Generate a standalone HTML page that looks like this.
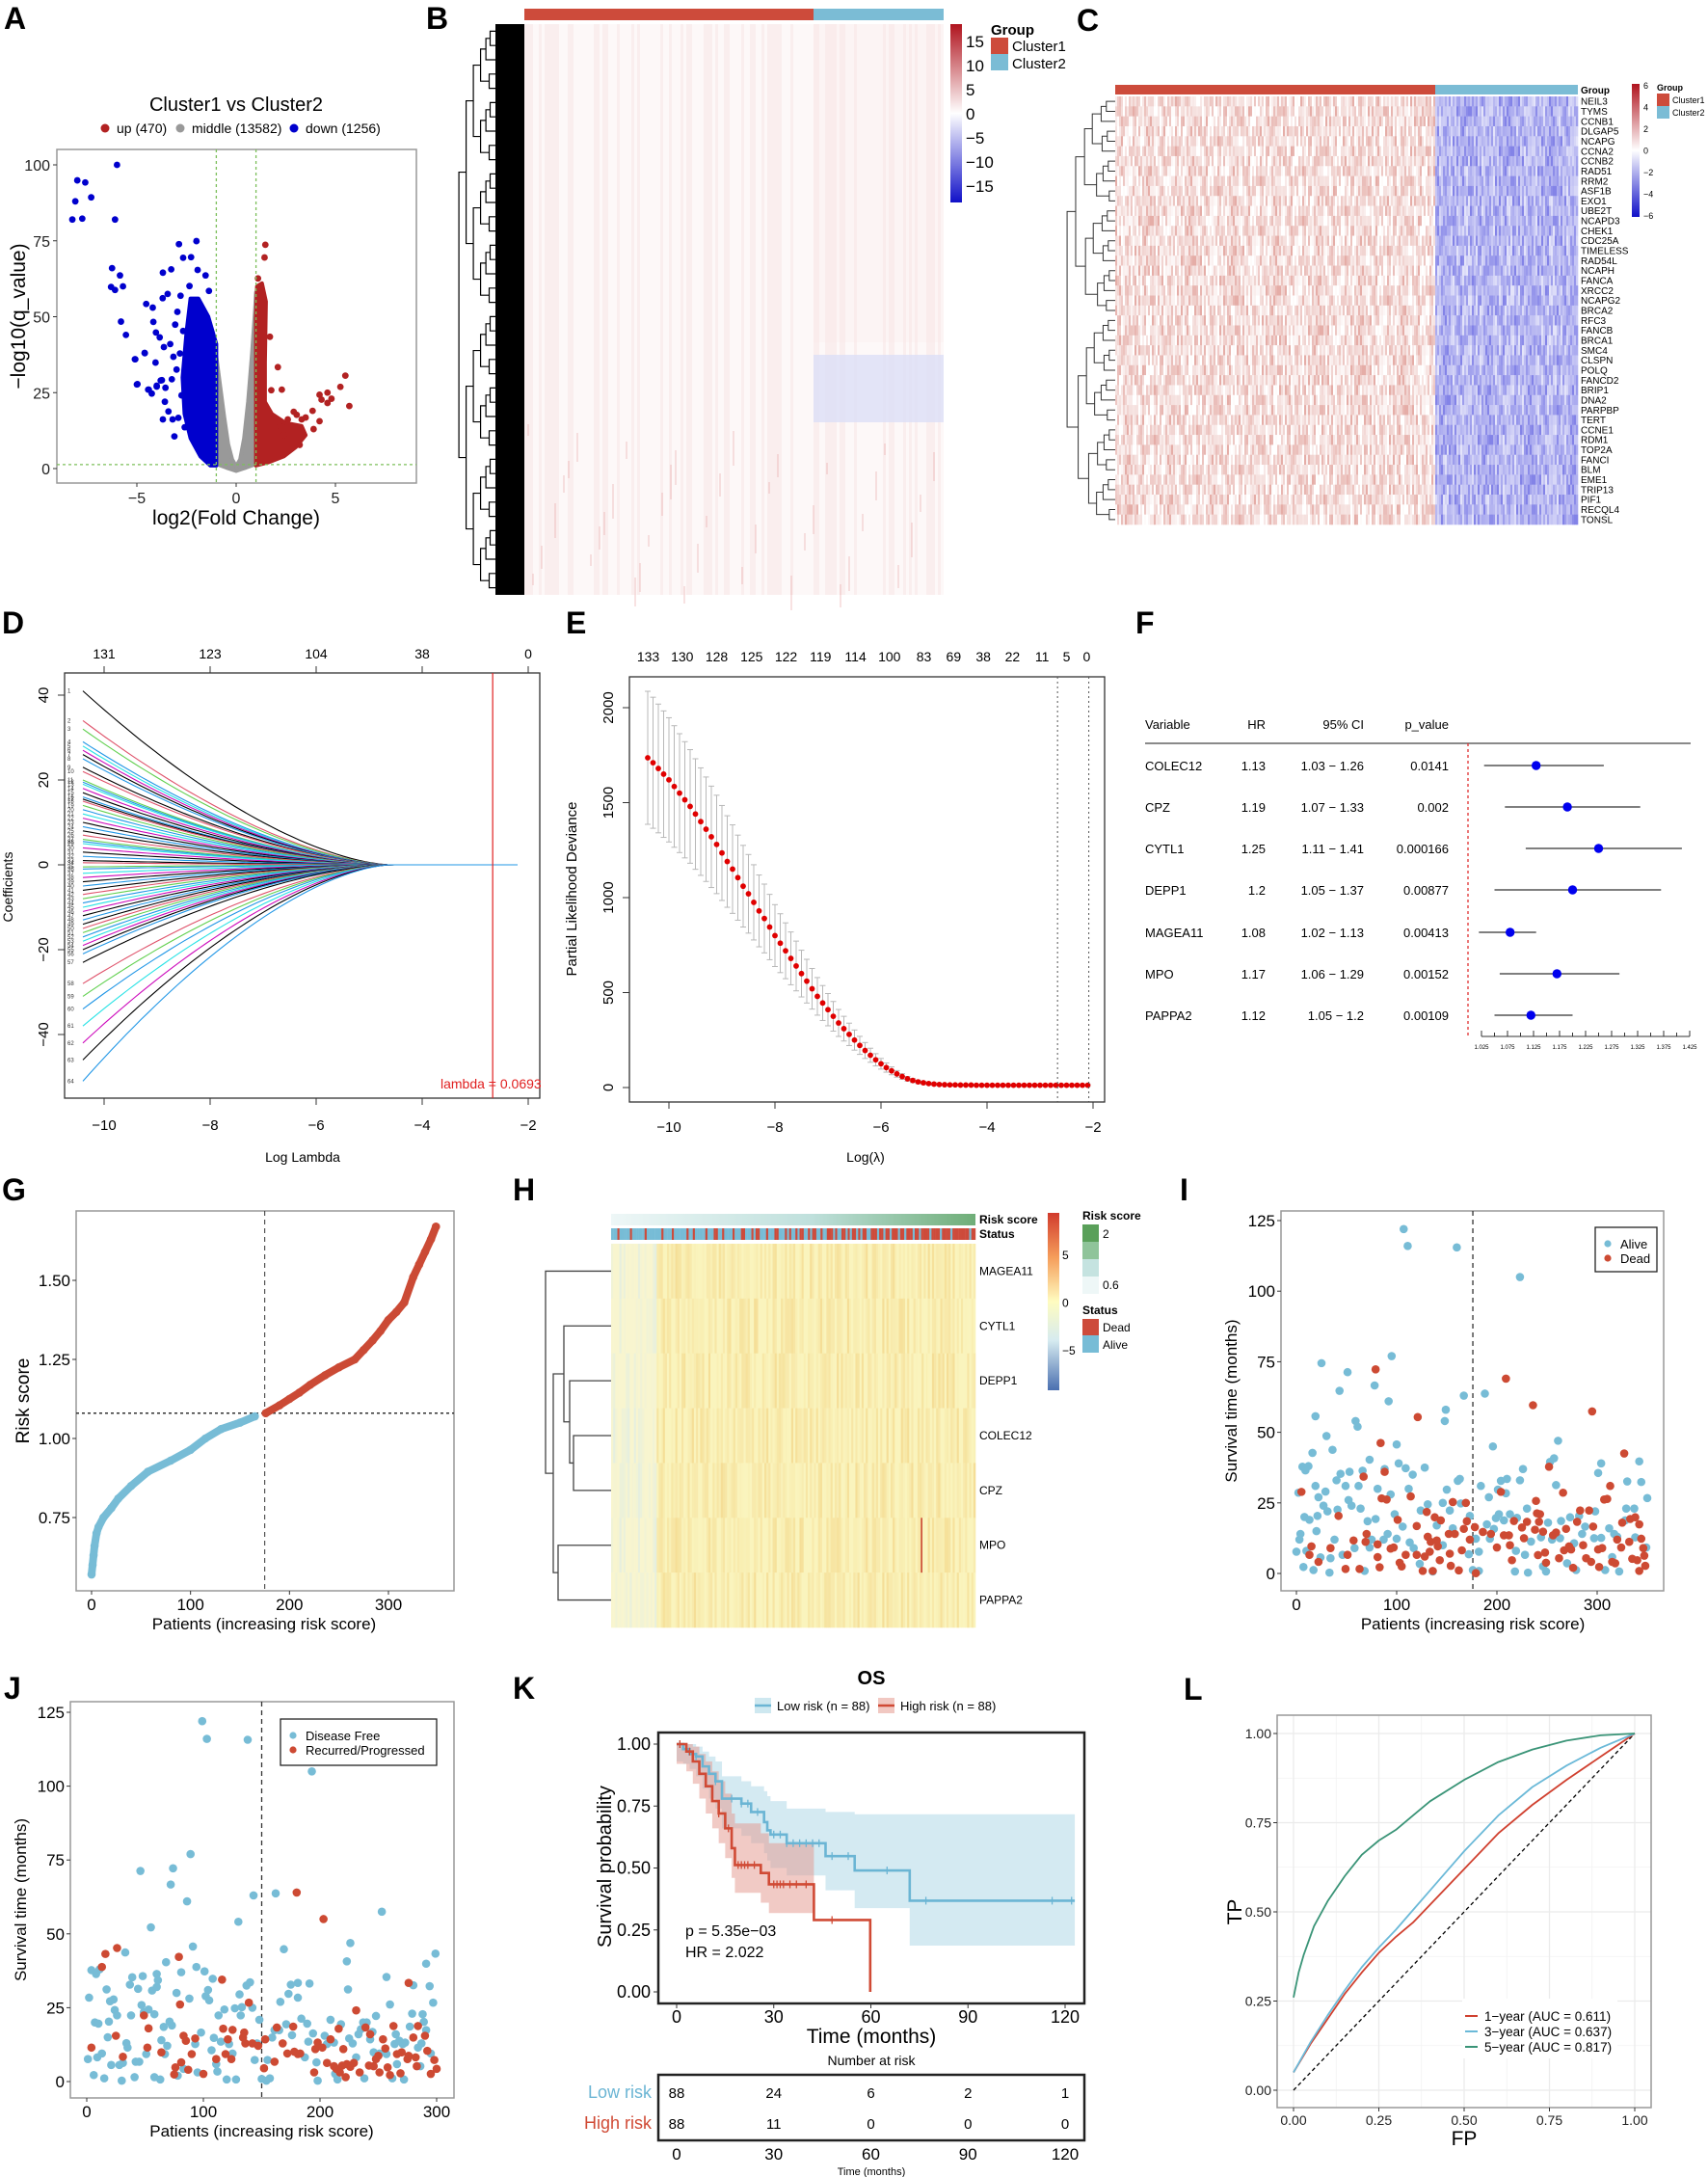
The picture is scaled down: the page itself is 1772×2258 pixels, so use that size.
<!DOCTYPE html>
<html><head><meta charset="utf-8"><title>Figure</title>
<style>body{margin:0;background:#fff}svg{display:block;font-family:"Liberation Sans",Arial,sans-serif}</style>
</head><body>
<svg id="fig" xmlns="http://www.w3.org/2000/svg" width="1772" height="2258" viewBox="0 0 1772 2258">
<defs>
<linearGradient id="gradB" x1="0" y1="0" x2="0" y2="1"><stop offset="0" stop-color="#b0141e"/><stop offset="0.5" stop-color="#ffffff"/><stop offset="1" stop-color="#1010c8"/></linearGradient>
<linearGradient id="gradC" x1="0" y1="0" x2="0" y2="1"><stop offset="0" stop-color="#b0141e"/><stop offset="0.5" stop-color="#ffffff"/><stop offset="1" stop-color="#1010c8"/></linearGradient>
<linearGradient id="gradH" x1="0" y1="0" x2="0" y2="1"><stop offset="0" stop-color="#d13b2c"/><stop offset="0.25" stop-color="#f59d5a"/><stop offset="0.5" stop-color="#fffcc0"/><stop offset="0.72" stop-color="#d6ebf0"/><stop offset="1" stop-color="#4a6fb0"/></linearGradient>
<linearGradient id="gradRisk" x1="0" y1="0" x2="1" y2="0"><stop offset="0" stop-color="#eef7f7"/><stop offset="0.55" stop-color="#bfe0dc"/><stop offset="1" stop-color="#6fae78"/></linearGradient>
<clipPath id="clipA"><rect x="59" y="155" width="373" height="346"/></clipPath>
<clipPath id="clipK"><rect x="683" y="1797" width="442" height="281"/></clipPath>
</defs>
</svg>
<script>
// ---------------- DATA ----------------
// Panel A volcano
const downX=[-8.0,-7.6,-8.1,-7.3,-8.25,-7.75,-6.0,-6.1,-6.25,-5.85,-5.7,-6.3,-6.1,-5.8,-5.55,-5.1,-5.0,-4.6,-4.4,-4.25,-4.0,-3.8,-3.69,-3.27,-2.88,-2.0,-2.67,-2.27,-3.7,-4.53,-4.2,-4.17,-4.04,-3.85,-5.08,-4.61,-4.06,-4.97,-4.43,-4.0,-3.56,-3.74,-3.59,-3.69,-3.11,-3.2,-3.41,-3.16,-3.32,-3.64,-3.07,-2.67,-2.96,-3.45,-2.8,-2.35,-1.54,-1.37,-1.94,-2.83,-3.0,-2.75,-2.91,-2.59,-3.24];
const downY=[94.9,94.2,88,89.3,82,82.3,100,82,66,63.6,60,59.8,58.8,48.4,44,36,27.7,38,26,24.7,27,29,64.5,65.6,73.9,74.9,69.4,69.6,56.1,54.2,53,48.3,44.8,43.2,36,38.1,34.9,27.8,26,27.3,26.6,29.1,22,16.2,10.6,16.2,18.8,36.8,41,40,47.4,45.3,51.6,57.5,56.9,60.1,63.6,58.5,65.4,37.9,32.6,24.1,16.7,13.6,29.4];
const upX=[1.47,1.43,1.1,1.7,2.1,2.3,1.77,5.5,5.7,5.25,4.8,4.6,4.2,4.3,4.6,3.85,4.2,3.9,3.2,3.5,2.9,3.05,3.3,2.6,2.2,2.4];
const upY=[73.7,69.5,62.6,43.4,33.4,26,25.8,30.6,20.6,26.9,23,25,24.3,22.7,21.6,19,15.6,13,7.8,16.8,18.7,17.7,16.2,16.2,14,11];
const grayCloudX=[-1,-1,-0.8,-0.6,-0.4,-0.2,0,0.2,0.4,0.6,0.8,0.95,1,1,0.5,0,-0.5];
const grayCloudY=[1.5,37,27,17,8,3,0.8,3,10,22,38,52,58,1.5,0.3,-0.8,0.3];
const blueCloudX=[-1,-1,-1.4,-1.9,-2.3,-2.5,-2.7,-2.6,-2.3,-1.8,-1.3];
const blueCloudY=[1,41,50,56,56,45,30,18,10,4,1];
const redCloudX=[1,1,1.05,1.3,1.5,1.45,1.45,1.8,2.5,3.3,3.5,3.0,2.4,1.6];
const redCloudY=[1,50,60,61,55,35,22,18,15,14,11,7,4,2];
const aXTicks=[-5,0,5], aYTicks=[0,25,50,75,100];
// Panel B colorbar
const bLegendTicks=[15,10,5,0,-5,-10,-15];
// Panel C genes
const cGenes=["NEIL3","TYMS","CCNB1","DLGAP5","NCAPG","CCNA2","CCNB2","RAD51","RRM2","ASF1B","EXO1","UBE2T","NCAPD3","CHEK1","CDC25A","TIMELESS","RAD54L","NCAPH","FANCA","XRCC2","NCAPG2","BRCA2","RFC3","FANCB","BRCA1","SMC4","CLSPN","POLQ","FANCD2","BRIP1","DNA2","PARPBP","TERT","CCNE1","RDM1","TOP2A","FANCI","BLM","EME1","TRIP13","PIF1","RECQL4","TONSL"];
const cLegendTicks=[6,4,2,0,-2,-4,-6];
// Panel D lasso coefficients (value at log lambda = -10.4)
const dCoefStart=[41,34,32,29,28,27,26,25,23,22,20,19.5,19,18,17,16,15.5,15,14,13,12,11,10,9,8,7,6,5.5,5,4,3,2,1,0.5,-0.5,-1,-2,-3,-4,-5,-6,-7,-8,-9,-10,-11,-12,-13,-14,-15,-16,-17,-18,-19,-20,-21,-23,-28,-31,-34,-38,-42,-46,-51];
const dTopLabels=[131,123,104,38,0], dTopLam=[-10,-8,-6,-4,-2];
const dXTicks=[-10,-8,-6,-4,-2], dYTicks=[-40,-20,0,20,40];
const dLambdaMin=-2.67;
// Panel E cv deviance
const eLogLam=[-10.4,-10.3,-10.2,-10.1,-10.0,-9.9,-9.8,-9.7,-9.6,-9.5,-9.4,-9.3,-9.2,-9.1,-9.0,-8.9,-8.8,-8.7,-8.6,-8.5,-8.4,-8.3,-8.2,-8.1,-8.0,-7.9,-7.8,-7.7,-7.6,-7.5,-7.4,-7.3,-7.2,-7.1,-7.0,-6.9,-6.8,-6.7,-6.6,-6.5,-6.4,-6.3,-6.2,-6.1,-6.0,-5.9,-5.8,-5.7,-5.6,-5.5,-5.4,-5.3,-5.2,-5.1,-5.0,-4.9,-4.8,-4.7,-4.6,-4.5,-4.4,-4.3,-4.2,-4.1,-4.0,-3.9,-3.8,-3.7,-3.6,-3.5,-3.4,-3.3,-3.2,-3.1,-3.0,-2.9,-2.8,-2.7,-2.6,-2.5,-2.4,-2.3,-2.2,-2.1];
const eDeviance=[1736,1710,1680,1650,1620,1585,1550,1515,1480,1440,1400,1360,1320,1280,1235,1190,1150,1105,1060,1020,975,930,890,845,800,760,720,680,640,600,560,520,480,445,410,375,340,310,280,250,222,195,170,146,125,105,88,72,58,46,37,30,25,21,18,16,15,14,14,13,13,13,12,12,12,12,12,12,12,12,12,12,12,12,12,12,12,12,12,12,12,12,12,12];
const eTopLabels=[133,130,128,125,122,119,114,100,83,69,38,22,11,5,0];
const eTopLam=[-10.39,-9.75,-9.1,-8.44,-7.79,-7.14,-6.48,-5.84,-5.19,-4.63,-4.07,-3.52,-2.96,-2.5,-2.12];
const eXTicks=[-10,-8,-6,-4,-2], eYTicks=[0,500,1000,1500,2000];
const eVLines=[-2.67,-2.08];
// Panel F forest
const fVars=["COLEC12","CPZ","CYTL1","DEPP1","MAGEA11","MPO","PAPPA2"];
const fHR=[1.13,1.19,1.25,1.2,1.08,1.17,1.12];
const fLo=[1.03,1.07,1.11,1.05,1.02,1.06,1.05];
const fHi=[1.26,1.33,1.41,1.37,1.13,1.29,1.2];
const fHRtxt=["1.13","1.19","1.25","1.2","1.08","1.17","1.12"];
const fCItxt=["1.03 \u2212 1.26","1.07 \u2212 1.33","1.11 \u2212 1.41","1.05 \u2212 1.37","1.02 \u2212 1.13","1.06 \u2212 1.29","1.05 \u2212 1.2"];
const fP=["0.0141","0.002","0.000166","0.00877","0.00413","0.00152","0.00109"];
const fTicks=[1.025,1.075,1.125,1.175,1.225,1.275,1.325,1.375,1.425];
// Panel G risk score curve
const gPatient=[0,1,2,3,5,7,12,20,27,40,57,80,100,115,131,150,165,176,190,200,210,221,236,250,266,275,284,292,300,308,316,325,331,337,343,348];
const gScore=[0.57,0.6,0.63,0.66,0.7,0.72,0.75,0.78,0.81,0.85,0.895,0.93,0.964,1.0,1.03,1.05,1.07,1.08,1.105,1.125,1.145,1.17,1.2,1.225,1.25,1.28,1.31,1.34,1.375,1.40,1.43,1.51,1.55,1.59,1.63,1.67];
const gCut=175, gCutScore=1.08;
const gXTicks=[0,100,200,300], gYTicks=[0.75,1.0,1.25,1.5];
// Panel H
const hGenes=["MAGEA11","CYTL1","DEPP1","COLEC12","CPZ","MPO","PAPPA2"];
const hStatus="AAADAAAAADAAAAAADAAAAAAADAAAADAAAAAADAADAAAAADAAADDAADAAAADAAADDAAADADDAAADAAADDAAADADAADADDAADADDAADAADDDADAADDADADDADADDAADDDADDADDADDDADDADDDADDADDDDADDDDADDDDADDDDDDDDADD";
const hLegendTicks=[5,0,-5];
// Panel I
const iAlive=[[0,7.7],[2,28.6],[3,12],[4,14],[6,37.8],[7,2.3],[8,20],[9,36.5],[10,8],[12,38],[13,19],[16,42.7],[17,1.2],[19,55.7],[19,31],[20,15],[21,20.4],[22,27],[24,5.7],[25,74.5],[27,24],[29,29],[30,48.7],[31,22],[33,0.3],[34,5.4],[36,43.8],[38,12],[40,33],[41,22.6],[43,64.7],[44,35.3],[46,6.6],[49,31],[51,71.3],[52,26],[53,36],[55,24],[58,9],[59,54],[61,52],[62,31],[64,23],[66,36.4],[68,0.9],[71,18.5],[73,9.2],[73,40.3],[75,12],[78,66.6],[79,19.3],[81,30],[87,12],[88,37],[91,14],[92,61],[94,28],[95,77],[98,21],[100,45.7],[100,12.3],[102,39],[106,16.6],[107,122],[109,37.3],[111,116],[112,30],[113,11],[116,35],[117,9],[123,3.4],[124,22.3],[128,37.5],[131,24.5],[136,0.7],[140,17],[146,10],[146,25],[148,54],[149,58],[150,29.7],[153,22.3],[156,16],[160,115.5],[161,32.8],[163,33.5],[164,24.8],[167,63],[172,6.8],[173,20.4],[176,1.2],[179,12.3],[182,7.7],[182,0.9],[184,31],[188,63.7],[190,17.4],[192,27],[193,12.3],[196,45],[197,15.8],[199,19.6],[201,29.7],[202,21],[204,32.8],[207,18.8],[209,28.4],[210,33.5],[213,21],[218,0.7],[219,8],[220,19.7],[223,33],[223,105],[226,37],[228,6.6],[230,23],[231,0.3],[234,11.3],[244,12.8],[246,2.5],[249,0.7],[251,18],[253,39.5],[255,12],[257,40.8],[259,31.3],[261,47],[263,12.5],[264,18.6],[270,3.6],[273,19.9],[277,10.7],[279,1.2],[282,20.4],[285,14],[288,16.6],[297,12.5],[298,22],[301,35.6],[304,39],[304,12.6],[308,1.2],[312,16],[315,5.8],[317,14],[320,13],[322,0.7],[328,18.8],[329,23],[330,32.6],[337,23],[338,12.8],[342,39.7],[344,32.4],[349,9.2],[350,26.7]];
const iDead=[[5,28.9],[13,6.6],[15,9.6],[22,4.1],[34,9],[42,20.4],[49,1.6],[51,6.6],[57,11.7],[63,1.6],[67,34.3],[69,11.2],[70,14],[79,72.3],[81,10.3],[81,5.8],[83,2.2],[84,46.2],[85,26.6],[88,36],[90,26.2],[94,8.8],[97,9.2],[101,19],[103,3.8],[105,2.5],[109,6.6],[114,27.3],[120,16.8],[120,6.6],[121,55.4],[126,0.9],[128,6],[130,21.8],[131,13],[133,7.7],[134,11.2],[136,0.9],[138,19.9],[140,11.7],[141,9.6],[143,4.7],[144,18.8],[152,14],[153,7],[154,2.7],[156,25.3],[158,14],[162,1.1],[165,8.2],[167,15.8],[169,25],[170,18.5],[173,12],[178,16.4],[179,0.1],[186,14.7],[194,14],[200,9.2],[204,28.9],[207,13.5],[209,69],[212,13.5],[213,10],[215,4.7],[217,18.6],[225,16.3],[227,12.5],[230,18.3],[236,59.6],[238,15.5],[239,25.7],[240,21.3],[241,6.5],[242,18.3],[243,21],[246,14.8],[248,7.4],[249,3.8],[252,37.8],[256,13.5],[259,14.5],[262,5.4],[266,28.6],[267,8.2],[269,15.8],[272,9.6],[274,8.5],[276,2],[280,18.3],[283,22.3],[286,10],[289,5.4],[292,22.3],[294,4.1],[295,57.4],[296,16.6],[301,8.5],[302,2.3],[305,9],[307,26.2],[310,26.4],[313,31],[315,4.1],[318,3.6],[320,12],[324,9.2],[325,18],[327,42.5],[332,11.2],[333,19.3],[335,5.2],[338,19.9],[340,4.7],[342,0.9],[342,17.4],[344,12.3],[346,9],[347,6.3],[348,2.7]];
const iCut=176;
const iXTicks=[0,100,200,300], iYTicks=[0,25,50,75,100,125];
// Panel J
const jFree=[[1,7.6],[2,28.4],[4,37.7],[6,2.2],[7,20],[8,36.4],[9,8.2],[10,19.6],[11,38],[13,9.5],[15,1.1],[17,31.2],[18,15],[19,20.3],[20,27.2],[21,5.6],[23,27.8],[24,24.2],[26,22.4],[28,5.6],[30,0.3],[31,6.3],[33,43.7],[34,13],[35,11.5],[37,32.8],[38,22.4],[39,35.3],[41,1.5],[42,6.7],[44,31.4],[45,6.7],[46,71.3],[47,25.9],[48,35.7],[49,23.5],[51,9.3],[53,24.4],[55,52.2],[56,30.8],[58,1.5],[58,22.8],[60,32],[60,36.4],[61,34.3],[63,0.7],[64,14],[66,18.5],[67,9.3],[68,40.4],[69,12.1],[71,20.3],[72,66.7],[73,19],[74,72.2],[77,30],[78,2],[81,37],[83,4.3],[86,61],[88,28.1],[89,77],[91,45.7],[93,12.7],[94,38.8],[95,3.1],[98,16.6],[99,122],[101,37.3],[102,28.9],[103,116],[104,31],[105,27.5],[107,10.6],[108,34.8],[109,14.8],[111,5.9],[112,3.4],[113,22.4],[115,13.5],[118,24.4],[120,0.7],[122,12.7],[125,9.5],[127,24.8],[128,0.7],[130,54.1],[131,29.5],[132,22.4],[133,25.2],[138,115.7],[137,32.5],[140,33.6],[142,25],[143,63],[144,7.3],[146,12.9],[148,20.9],[150,0.9],[154,0.3],[155,7.3],[157,1.1],[159,14.9],[161,17.4],[162,63.7],[165,17.4],[166,27],[169,44.8],[171,19.4],[173,29.7],[175,32.8],[176,15.7],[181,33.4],[181,28.4],[184,21.3],[187,8.2],[189,19.6],[190,13.5],[191,33.2],[193,105],[194,16.3],[197,6.5],[198,0.3],[204,15.5],[206,12.7],[209,20.9],[212,13.2],[213,2.6],[215,0.7],[218,19.4],[223,40.7],[224,31.2],[225,14.6],[226,46.9],[228,12.9],[231,8.2],[233,16],[235,17.7],[237,20],[238,1.1],[240,20],[243,14.3],[245,16.8],[246,9.9],[248,22.2],[251,9.5],[253,57.5],[257,9.3],[257,35.4],[260,26.1],[262,1.1],[264,12.7],[265,16],[266,5.9],[268,13.8],[271,12.7],[272,0.7],[273,13.2],[277,18.6],[279,23],[280,32.6],[284,11.5],[286,5.2],[287,12.9],[288,22.8],[289,20.2],[291,17.4],[291,39.9],[294,32.3],[295,9.5],[297,26.7],[299,43.3]];
const jRec=[[4,11.5],[13,38.8],[16,43.2],[25,15.5],[26,45.2],[31,8.4],[49,22.4],[52,11.5],[53,18],[64,9.9],[75,2.4],[76,4.8],[79,42.2],[80,26.1],[81,6.5],[83,15.5],[85,13.8],[87,4],[90,9.3],[93,14.6],[100,2.6],[111,7.6],[116,34.5],[117,17.9],[119,9.3],[121,14.3],[124,7.6],[125,17.5],[134,14.9],[135,16.6],[136,12.9],[139,26.7],[142,12.9],[147,12.1],[152,4.5],[153,14.3],[161,6.7],[163,18.3],[168,12.9],[172,9.5],[177,18.6],[178,10.1],[180,64],[181,9.3],[183,9.5],[195,3.1],[196,11],[198,13.2],[202,11.5],[203,55],[206,6.3],[209,14.3],[212,5.2],[214,4.3],[216,17.9],[217,3.1],[219,5.4],[220,11],[222,1.5],[223,5.9],[226,5],[229,6.3],[231,24.1],[234,3.1],[239,18.3],[242,5.4],[243,16],[246,5.2],[248,7.6],[250,8.7],[251,3.1],[254,14.3],[256,11.2],[258,4.8],[260,2.2],[263,18.8],[266,9.3],[269,2.8],[270,9.9],[275,7.6],[276,8.7],[276,33.4],[280,14.9],[282,8.2],[283,5.2],[284,18.8],[290,15.5],[292,10.4],[295,2.6],[298,7.3],[300,4.3]];
const jCut=150;
const jXTicks=[0,100,200,300], jYTicks=[0,25,50,75,100,125];
// Panel K Kaplan-Meier
const kLowT=[0,2,4,6,8,10,12,14,20,23,27,28,29,34,46,55,72,123];
const kLowS=[1,0.98,0.96,0.95,0.91,0.88,0.85,0.78,0.76,0.726,0.685,0.652,0.635,0.6,0.548,0.49,0.368,0.368];
const kLowLo=[0.93,0.92,0.9,0.87,0.82,0.78,0.74,0.66,0.63,0.6,0.56,0.53,0.5,0.47,0.41,0.338,0.187,0.187];
const kLowHi=[1,1,1,0.99,0.97,0.95,0.93,0.87,0.85,0.83,0.81,0.79,0.77,0.74,0.726,0.717,0.717,0.717];
const kHighT=[0,3,5,7,9,11,13,15,17,18,26,28.5,42.4,59.8];
const kHighS=[1,0.97,0.93,0.88,0.83,0.77,0.72,0.66,0.58,0.512,0.48,0.434,0.29,0];
const kHighLo=[0.92,0.89,0.84,0.78,0.72,0.66,0.6,0.54,0.46,0.4,0.36,0.318,0.124,0.124];
const kHighHi=[1,1,0.99,0.96,0.93,0.89,0.85,0.8,0.72,0.68,0.64,0.6,0.69,0.69];
const kLowCensor=[1,6,12,17,20,22,25,30,32,34,36,38,40,42,44,48,53,65,77,116,122];
const kHighCensor=[1,4,13,16,19,20,21,22,24,30,31,32,33,35,37,40,48];
const kTicks=[0,30,60,90,120], kYTicks=[0,0.25,0.5,0.75,1];
const kRiskLow=[88,24,6,2,1], kRiskHigh=[88,11,0,0,0];
// Panel L ROC
const l1FP=[0,0.05,0.1,0.15,0.2,0.25,0.3,0.35,0.4,0.45,0.5,0.55,0.6,0.7,0.8,0.9,1];
const l1TP=[0.05,0.13,0.2,0.27,0.33,0.385,0.43,0.47,0.52,0.57,0.62,0.67,0.72,0.8,0.87,0.935,1];
const l3FP=[0,0.05,0.1,0.15,0.2,0.25,0.3,0.35,0.4,0.45,0.5,0.55,0.6,0.7,0.8,0.9,1];
const l3TP=[0.05,0.135,0.21,0.28,0.345,0.4,0.45,0.505,0.56,0.615,0.67,0.72,0.77,0.85,0.91,0.96,1];
const l5FP=[0,0.015,0.03,0.06,0.1,0.15,0.2,0.25,0.3,0.35,0.4,0.5,0.6,0.7,0.8,0.9,1];
const l5TP=[0.26,0.33,0.38,0.46,0.53,0.6,0.66,0.7,0.73,0.77,0.81,0.87,0.92,0.955,0.98,0.995,1];
const lTicks=[0,0.25,0.5,0.75,1];
const lTickLab=["0.00","0.25","0.50","0.75","1.00"];

// ---------------- HELPERS ----------------
const NS="http://www.w3.org/2000/svg";
const svg=document.getElementById("fig");
function mk(tag,attrs,parent){const e=document.createElementNS(NS,tag);for(const k in attrs)e.setAttribute(k,attrs[k]);(parent||svg).appendChild(e);return e;}
function T(p,x,y,s,size,anchor,weight,fill,rot){const e=mk("text",{x:x,y:y,"font-size":size,"text-anchor":anchor||"start","font-weight":weight||"normal",fill:fill||"#000"},p);if(rot)e.setAttribute("transform","rotate("+rot+" "+x+" "+y+")");e.textContent=s;return e;}
function lin(d0,d1,r0,r1){return v=>r0+(v-d0)*(r1-r0)/(d1-d0);}
function hex(c){return [parseInt(c.substr(1,2),16),parseInt(c.substr(3,2),16),parseInt(c.substr(5,2),16)];}
function mix(a,b,t){t=Math.max(0,Math.min(1,t));const A=hex(a),B=hex(b);return "rgb("+A.map((v,i)=>Math.round(v+(B[i]-v)*t)).join(",")+")";}
function group(){return mk("g",{});}
const tex=[0.3,1.2,0.6,-0.2,0.9,1.6,0.1,0.8,1.1,0.4,-0.4,1.3,0.7,0.2,1.8,0.5,0.9,0,1.4,0.6,0.3,1.0,-0.1];
function tx(a,b){return tex[(a*7+b*13+((a*a+3*b)%11))%23];}

// panel letters
const letters=[["A",4,30],["B",442,30],["C",1117,32],["D",2,657],["E",587,657],["F",1178,657],["G",2,1245],["H",532,1245],["I",1224,1245],["J",4,1762],["K",532,1762],["L",1228,1763]];
letters.forEach(l=>{const t=T(svg,l[1],l[2],l[0],32,"start","bold");

});

// ---------------- PANEL A ----------------
(function(){
const g=group();


const xA=lin(0,5,245,348), yA=lin(0,100,486,171);
const tt=T(g,245,115,"Cluster1 vs Cluster2",20,"middle");


const leg=[["#b22222","up (470)",109],["#999999","middle (13582)",187],["#0000cd","down (1256)",305]];
leg.forEach(l=>{mk("circle",{cx:l[2],cy:133,r:4.5,fill:l[0]},g);const t=T(g,l[2]+12,138,l[1],14);

});
const frame=mk("rect",{x:59,y:155,width:373,height:346,fill:"#fff",stroke:"#999","stroke-width":1.5},g);


const c=mk("g",{"clip-path":"url(#clipA)"},g);
function poly(xs,ys,col){return mk("polygon",{points:xs.map((x,i)=>xA(x)+","+yA(ys[i])).join(" "),fill:col,stroke:col,"stroke-width":4,"stroke-linejoin":"round"},c);}
const pg=poly(grayCloudX,grayCloudY,"#999999");


const pb=poly(blueCloudX,blueCloudY,"#0000cd");


const pr=poly(redCloudX,redCloudY,"#b22222");


downX.forEach((x,i)=>{const d=mk("circle",{cx:xA(x),cy:yA(downY[i]),r:3.4,fill:"#0000cd"},c);

});
upX.forEach((x,i)=>{const d=mk("circle",{cx:xA(x),cy:yA(upY[i]),r:3.4,fill:"#b22222"},c);

});
[-1,1].forEach(v=>mk("line",{x1:xA(v),x2:xA(v),y1:155,y2:501,stroke:"#7cbf5a","stroke-width":1.3,"stroke-dasharray":"3,3"},c));
mk("line",{x1:59,x2:432,y1:yA(1.3),y2:yA(1.3),stroke:"#7cbf5a","stroke-width":1.3,"stroke-dasharray":"3,3"},c);
aYTicks.forEach(v=>{mk("line",{x1:55,x2:59,y1:yA(v),y2:yA(v),stroke:"#333"},g);T(g,52,yA(v)+6,String(v),16,"end","normal","#222");});
aXTicks.forEach(v=>{mk("line",{x1:xA(v),x2:xA(v),y1:501,y2:505,stroke:"#333"},g);T(g,xA(v),522,v<0?"\u2212"+(-v):String(v),16,"middle","normal","#222");});
const xl=T(g,245,544,"log2(Fold Change)",21,"middle");


const yl=T(g,26,328,"\u2212log10(q_value)",21,"middle","normal","#000",-90);


})();

// ---------------- PANEL B ----------------
(function(){
const g=group();


const r1=mk("rect",{x:544,y:9,width:300,height:12,fill:"#cd4b3b"},g);


const r2=mk("rect",{x:844,y:9,width:135,height:12,fill:"#7bbcd5"},g);


const hm=mk("rect",{x:544,y:25,width:435,height:592,fill:"#fefcfc"},g);


for(let i=0;i<145;i++){const v=tx(i,1);const x=544+i*3;
mk("rect",{x:x,y:25,width:3,height:592,fill:v>0.8?"#f6e0e0":"#fcf3f3",opacity:0.5},g);}
mk("rect",{x:844,y:368,width:135,height:70,fill:"#dcdff6",opacity:0.8},g);
mk("rect",{x:844,y:25,width:135,height:330,fill:"#f8e4e4",opacity:0.2},g);
for(let i=0;i<40;i++){const x=548+((i*37)%430);const y=440+((i*53)%170);mk("line",{x1:x,x2:x,y1:y,y2:y+12+(i%5)*6,stroke:"#e8a0a0","stroke-width":1,opacity:0.6},g);}
mk("rect",{x:514,y:25,width:30,height:592,fill:"#000"},g);
const N=40,sp=592/N;
function tree(lo,hi){if(lo===hi)return{x:516,y:25+sp*(lo+0.5)};const m=Math.floor((lo+hi)/2);const a=tree(lo,m),b=tree(m+1,hi);const xn=516-7.5*Math.log2(hi-lo+1)-((lo*7)%5);
mk("path",{d:"M"+a.x+" "+a.y+"H"+xn+"V"+b.y+"H"+b.x,fill:"none",stroke:"#000","stroke-width":1.2},g);return{x:xn,y:(a.y+b.y)/2};}
tree(0,N-1);
const cb=mk("rect",{x:986,y:25,width:12,height:185,fill:"url(#gradB)"},g);


const yb=lin(15,-15,43,193);
bLegendTicks.forEach(v=>T(g,1002,yb(v)+6,v<0?"\u2212"+(-v):String(v),17));
T(g,1028,36,"Group",15,"start","bold");
mk("rect",{x:1028,y:39,width:18,height:17,fill:"#cd4b3b"},g);
mk("rect",{x:1028,y:56,width:18,height:17,fill:"#7bbcd5"},g);
T(g,1050,53,"Cluster1",15);T(g,1050,71,"Cluster2",15);
})();

// ---------------- PANEL C ----------------
(function(){
const g=group();


const x0=1157,x1=1637,xs=1489,y0=100,rh=(544-100)/43;
mk("rect",{x:x0,y:88,width:xs-x0,height:10,fill:"#cd4b3b"},g);
mk("rect",{x:xs,y:88,width:x1-xs,height:10,fill:"#7bbcd5"},g);
T(g,1640,97,"Group",10,"start","bold");
const cw=2;
for(let r=0;r<43;r++){for(let cI=0;cI<(x1-x0)/cw;cI++){const x=x0+cI*cw;const t=tx(cI,r);let col;
if(x<xs){col=mix("#ffffff","#c0392b",(t+0.1)/4.6);}else{const v=1.0+t*1.0;col=mix("#ffffff","#2a2ad6",v/4.8);}
mk("rect",{x:x,y:y0+r*rh,width:cw+0.3,height:rh+0.3,fill:col},g);}}
cGenes.forEach((s,i)=>{const t=T(g,1640,y0+rh*(i+0.5)+3.5,s,10);

});
function tree(lo,hi){if(lo===hi)return{x:x0,y:y0+rh*(lo+0.5)};const m=Math.floor((lo+hi)/2);const a=tree(lo,m),b=tree(m+1,hi);const xn=x0-9.2*Math.log2(hi-lo+1)+((lo*3)%4);
mk("path",{d:"M"+a.x+" "+a.y+"H"+xn+"V"+b.y+"H"+b.x,fill:"none",stroke:"#333","stroke-width":1},g);return{x:xn,y:(a.y+b.y)/2};}
tree(0,42);
mk("rect",{x:1693,y:87,width:8,height:138,fill:"url(#gradC)"},g);
const yc=lin(6,-6,89,224);
cLegendTicks.forEach(v=>T(g,1705,yc(v)+3,v<0?"\u2212"+(-v):String(v),9));
T(g,1719,94,"Group",9,"start","bold");
mk("rect",{x:1719,y:97,width:13,height:13,fill:"#cd4b3b"},g);
mk("rect",{x:1719,y:110,width:13,height:13,fill:"#7bbcd5"},g);
T(g,1735,107,"Cluster1",9);T(g,1735,120,"Cluster2",9);
})();

// ---------------- PANEL D ----------------
(function(){
const g=group();


const xD=lin(-10,-2,108,548), yD=lin(0,40,897,721);
mk("rect",{x:67,y:698,width:493,height:441,fill:"#fff",stroke:"#333","stroke-width":1.3},g);
const pal=["#000000","#DF536B","#61D04F","#2297E6","#28E2E5","#CD0BBC","#000000","#2297E6"];
dCoefStart.forEach((c,i)=>{let d="";for(let k=0;k<=60;k++){const L=-10.4+k*(8.2/60);const t=Math.max(0,(L+4.6)/(-10.4+4.6));const v=c*Math.pow(t,1.6);d+=(k?"L":"M")+xD(L).toFixed(1)+" "+yD(v).toFixed(1);}
const p=mk("path",{d:d,fill:"none",stroke:pal[i%pal.length],"stroke-width":1.1},g);


T(g,70,yD(c)+2,String(i+1),6,"start","normal","#333");});
const vl=mk("line",{x1:xD(dLambdaMin),x2:xD(dLambdaMin),y1:698,y2:1139,stroke:"#e02020","stroke-width":1.2},g);


T(g,457,1129,"lambda = 0.0693",14,"start","normal","#e02020");
mk("rect",{x:561,y:1100,width:60,height:40,fill:"#fff"},g);
dXTicks.forEach(v=>{mk("line",{x1:xD(v),x2:xD(v),y1:1139,y2:1146,stroke:"#333"},g);T(g,xD(v),1172,"\u2212"+(-v),15,"middle");});
dYTicks.forEach(v=>{mk("line",{x1:60,x2:67,y1:yD(v),y2:yD(v),stroke:"#333"},g);T(g,50,yD(v),v<0?"\u2212"+(-v):String(v),15,"middle","normal","#000",-90);});
dTopLam.forEach((v,i)=>{mk("line",{x1:xD(v),x2:xD(v),y1:691,y2:698,stroke:"#333"},g);T(g,xD(v),683,String(dTopLabels[i]),14,"middle");});
T(g,314,1205,"Log Lambda",14,"middle");
T(g,13,920,"Coefficients",14,"middle","normal","#000",-90);
})();

// ---------------- PANEL E ----------------
(function(){
const g=group();


const xE=lin(-10,-2,694,1134), yE=lin(0,2000,1128,734);
mk("rect",{x:653,y:702,width:493,height:441,fill:"#fff",stroke:"#333","stroke-width":1.3},g);
eLogLam.forEach((L,i)=>{const v=eDeviance[i];const e=v*0.2+3;const x=xE(L);
mk("line",{x1:x,x2:x,y1:yE(v-e),y2:yE(v+e),stroke:"#b8b8b8","stroke-width":1},g);
mk("line",{x1:x-3,x2:x+3,y1:yE(v+e),y2:yE(v+e),stroke:"#b8b8b8","stroke-width":1},g);
mk("line",{x1:x-3,x2:x+3,y1:yE(v-e),y2:yE(v-e),stroke:"#b8b8b8","stroke-width":1},g);});
eLogLam.forEach((L,i)=>{const c=mk("circle",{cx:xE(L),cy:yE(eDeviance[i]),r:2.9,fill:"#e00000"},g);

});
eVLines.forEach(v=>mk("line",{x1:xE(v),x2:xE(v),y1:702,y2:1143,stroke:"#555","stroke-width":1,"stroke-dasharray":"2,3"},g));
eXTicks.forEach(v=>{mk("line",{x1:xE(v),x2:xE(v),y1:1143,y2:1150,stroke:"#333"},g);T(g,xE(v),1174,"\u2212"+(-v),15,"middle");});
eYTicks.forEach(v=>{mk("line",{x1:646,x2:653,y1:yE(v),y2:yE(v),stroke:"#333"},g);T(g,636,yE(v),String(v),15,"middle","normal","#000",-90);});
eTopLam.forEach((v,i)=>T(g,xE(v),686,String(eTopLabels[i]),14,"middle"));
T(g,898,1205,"Log(\u03bb)",14,"middle");
T(g,598,922,"Partial Likelihood Deviance",15,"middle","normal","#000",-90);
})();

// ---------------- PANEL F ----------------
(function(){
const g=group();


const xF=lin(1.025,1.425,1537,1753);
const rowY=[794,837,880,923,967,1010,1053];
T(g,1188,756,"Variable",13);T(g,1313,756,"HR",13,"end");T(g,1415,756,"95% CI",13,"end");T(g,1503,756,"p_value",13,"end");
mk("line",{x1:1188,x2:1754,y1:771,y2:771,stroke:"#444","stroke-width":1.3},g);
mk("line",{x1:1523,x2:1523,y1:771,y2:1075,stroke:"#e03030","stroke-width":1.3,"stroke-dasharray":"3,3"},g);
fVars.forEach((v,i)=>{const y=rowY[i];
T(g,1188,y+5,v,13);T(g,1313,y+5,fHRtxt[i],13,"end");T(g,1415,y+5,fCItxt[i],13,"end");T(g,1503,y+5,fP[i],13,"end");
const l=mk("line",{x1:xF(fLo[i]),x2:xF(fHi[i]),y1:y,y2:y,stroke:"#333","stroke-width":1.2},g);


const c=mk("circle",{cx:xF(fHR[i]),cy:y,r:4.7,fill:"#0000ee"},g);

});
mk("line",{x1:xF(1.025),x2:xF(1.425),y1:1075,y2:1075,stroke:"#333","stroke-width":1},g);
fTicks.forEach(v=>{mk("line",{x1:xF(v),x2:xF(v),y1:1069,y2:1075,stroke:"#333"},g);T(g,xF(v),1088,v.toFixed(3),6,"middle");});
fTicks.slice(0,-1).forEach(v=>{const m=v+0.025;mk("line",{x1:xF(m),x2:xF(m),y1:1071,y2:1075,stroke:"#333"},g);});
})();

// ---------------- PANEL G ----------------
(function(){
const g=group();


const xG=lin(0,300,95,403), yG=lin(0.75,1.5,1574,1328);
mk("rect",{x:79,y:1256,width:392,height:394,fill:"#fff",stroke:"#999","stroke-width":1.5},g);
mk("line",{x1:xG(gCut),x2:xG(gCut),y1:1256,y2:1650,stroke:"#333","stroke-dasharray":"5,4"},g);
mk("line",{x1:79,x2:471,y1:yG(gCutScore),y2:yG(gCutScore),stroke:"#333","stroke-width":1.5,"stroke-dasharray":"3,3"},g);
const lowI=gPatient.map((p,i)=>i).filter(i=>gPatient[i]<=gCut), highI=gPatient.map((p,i)=>i).filter(i=>gPatient[i]>=gCut);
[[lowI,"#77bcd6","low-risk-curve"],[highI,"#cb4a35","high-risk-curve"]].forEach(s=>{
const p=mk("polyline",{points:s[0].map(i=>xG(gPatient[i])+","+yG(gScore[i])).join(" "),fill:"none",stroke:s[1],"stroke-width":8,"stroke-linecap":"round","stroke-linejoin":"round"},g);


s[0].forEach(i=>mk("circle",{cx:xG(gPatient[i]),cy:yG(gScore[i]),r:4.3,fill:s[1]},g));});
gYTicks.forEach(v=>{mk("line",{x1:75,x2:79,y1:yG(v),y2:yG(v),stroke:"#333"},g);T(g,73,yG(v)+6,v.toFixed(2),17,"end");});
gXTicks.forEach(v=>{mk("line",{x1:xG(v),x2:xG(v),y1:1650,y2:1654,stroke:"#333"},g);T(g,xG(v),1670,String(v),17,"middle");});
T(g,274,1690,"Patients (increasing risk score)",17,"middle");
T(g,30,1453,"Risk score",19,"middle","normal","#000",-90);
})();

// ---------------- PANEL H ----------------
(function(){
const g=group();


const x0=634,x1=1012,y0=1290,rh=(1688-1290)/7;
const rb=mk("rect",{x:x0,y:1259,width:x1-x0,height:12,fill:"url(#gradRisk)"},g);


const sw=(x1-x0)/hStatus.length;
for(let i=0;i<hStatus.length;i++){mk("rect",{x:x0+i*sw,y:1274,width:sw+0.2,height:12,fill:hStatus[i]==="D"?"#cd4b3b":"#77bcd6"},g);}
const nc=176,cw=(x1-x0)/nc;
for(let r=0;r<7;r++)for(let c=0;c<nc;c++){const t=tx(c,r);let col;
if(c<22){col=mix("#f8f5cf","#d3e9ee",(0.7-t)/2.2);}else{col=mix("#faf4bd","#f0c870",(t-0.2)/3.2);}
mk("rect",{x:x0+c*cw,y:y0+r*rh,width:cw+0.3,height:rh+0.3,fill:col},g);}
mk("line",{x1:x0+150*cw,x2:x0+150*cw,y1:y0+5*rh,y2:y0+6*rh,stroke:"#c83a2a","stroke-width":1.5},g);
T(g,1016,1269,"Risk score",12,"start","bold");T(g,1016,1284,"Status",12,"start","bold");
hGenes.forEach((s,i)=>{const t=T(g,1016,y0+rh*(i+0.5)+4,s,12);

});
const yr=i=>y0+rh*(i+0.5);
function br(xa,ya,xb,yb,xn){mk("path",{d:"M"+xa+" "+ya+"H"+xn+"V"+yb+"H"+xb,fill:"none",stroke:"#444","stroke-width":1.3},g);}
br(x0,yr(5),x0,yr(6),579);
br(x0,yr(3),x0,yr(4),595);
br(x0,yr(2),595,(yr(3)+yr(4))/2,591);
br(x0,yr(1),591,(yr(2)+(yr(3)+yr(4))/2)/2,585);
const n1=(yr(1)+(yr(2)+(yr(3)+yr(4))/2)/2)/2, n2=(yr(5)+yr(6))/2;
br(585,n1,579,n2,574);
br(x0,yr(0),574,(n1+n2)/2,566);
mk("rect",{x:1087,y:1258,width:12,height:184,fill:"url(#gradH)"},g);
const yh=lin(5,-5,1301,1400);
hLegendTicks.forEach(v=>T(g,1102,yh(v)+5,v<0?"\u2212"+(-v):String(v),12));
T(g,1123,1265,"Risk score",12,"start","bold");
[["#5aa05a",1270],["#8fc49a",1288],["#c5e3e0",1306],["#eef7f7",1324]].forEach(b=>mk("rect",{x:1123,y:b[1],width:17,height:18,fill:b[0]},g));
T(g,1144,1284,"2",12);T(g,1144,1337,"0.6",12);
T(g,1123,1363,"Status",12,"start","bold");
mk("rect",{x:1123,y:1368,width:17,height:17,fill:"#cd4b3b"},g);mk("rect",{x:1123,y:1385,width:17,height:18,fill:"#77bcd6"},g);
T(g,1144,1381,"Dead",12);T(g,1144,1399,"Alive",12);
})();

// ---------------- SCATTER (I, J) ----------------
function scatterPanel(name,xs,ys,frame,series,cut,xTicks,yTicks,leg,legBox){
const g=group();


mk("rect",{x:frame[0],y:frame[1],width:frame[2]-frame[0],height:frame[3]-frame[1],fill:"#fff",stroke:"#999","stroke-width":1.5},g);
mk("line",{x1:xs(cut),x2:xs(cut),y1:frame[1],y2:frame[3],stroke:"#333","stroke-width":1.3,"stroke-dasharray":"5,4"},g);
series.forEach(s=>s.data.forEach(d=>{const c=mk("circle",{cx:xs(d[0]),cy:ys(d[1]),r:4.3,fill:s.col},g);

}));
yTicks.forEach(v=>{mk("line",{x1:frame[0]-4,x2:frame[0],y1:ys(v),y2:ys(v),stroke:"#333"},g);T(g,frame[0]-6,ys(v)+6,String(v),17,"end");});
xTicks.forEach(v=>{mk("line",{x1:xs(v),x2:xs(v),y1:frame[3],y2:frame[3]+4,stroke:"#333"},g);T(g,xs(v),frame[3]+20,String(v),17,"middle");});
T(g,xs(cut),frame[3]+40,"Patients (increasing risk score)",17,"middle");
T(g,frame[0]-46,(frame[1]+frame[3])/2,"Survival time (months)",17,"middle","normal","#000",-90);
const lb=mk("rect",{x:legBox[0],y:legBox[1],width:legBox[2],height:legBox[3],fill:"#fff",stroke:"#222","stroke-width":1.3},g);


leg.forEach((l,i)=>{const y=legBox[1]+17+i*15;mk("circle",{cx:legBox[0]+13,cy:y,r:3.6,fill:l[1]},g);T(g,legBox[0]+26,y+5,l[0],13);});
}
scatterPanel("panel-i-survival-scatter",lin(0,300,1345,1657),lin(0,125,1632,1266),[1329,1256,1726,1650],
[{data:iAlive,col:"#77bcd6",name:"alive-point"},{data:iDead,col:"#cd4a33",name:"dead-point"}],iCut,iXTicks,iYTicks,[["Alive","#77bcd6"],["Dead","#cd4a33"]],[1655,1273,64,46]);
scatterPanel("panel-j-recurrence-scatter",lin(0,300,90,453),lin(0,125,2159,1776),[73,1765,471,2176],
[{data:jFree,col:"#77bcd6",name:"disease-free-point"},{data:jRec,col:"#cd4a33",name:"recurred-point"}],jCut,jXTicks,jYTicks,[["Disease Free","#77bcd6"],["Recurred/Progressed","#cd4a33"]],[291,1783,162,48]);

// ---------------- PANEL K ----------------
(function(){
const g=group();


const xK=lin(0,120,702,1105), yK=lin(0,1,2066,1809);
T(g,904,1747,"OS",20,"middle","bold");
mk("rect",{x:783,y:1761,width:17,height:16,fill:"#add8e6",opacity:0.6},g);mk("line",{x1:783,x2:800,y1:1769,y2:1769,stroke:"#6bb5d4","stroke-width":2.5},g);
const l1=T(g,806,1774,"Low risk (n = 88)",13);


mk("rect",{x:911,y:1761,width:17,height:16,fill:"#e8a39a",opacity:0.6},g);mk("line",{x1:911,x2:928,y1:1769,y2:1769,stroke:"#d04a35","stroke-width":2.5},g);
const l2=T(g,934,1774,"High risk (n = 88)",13);


mk("rect",{x:683,y:1797,width:442,height:281,fill:"#fff"},g);
const c=mk("g",{"clip-path":"url(#clipK)"},g);
function band(T_,lo,hi,col){let up="",dn="";for(let i=0;i<T_.length;i++){const xa=xK(T_[i]),xb=xK(i<T_.length-1?T_[i+1]:T_[i]);up+=(i?"L":"M")+xa+" "+yK(hi[i])+"L"+xb+" "+yK(hi[i]);}
for(let i=T_.length-1;i>=0;i--){const xa=xK(T_[i]),xb=xK(i<T_.length-1?T_[i+1]:T_[i]);dn+="L"+xb+" "+yK(lo[i])+"L"+xa+" "+yK(lo[i]);}
return mk("path",{d:up+dn+"Z",fill:col,opacity:0.5},c);}
const bl=band(kLowT,kLowLo,kLowHi,"#a9d6e5");


const bh=band(kHighT.slice(0,-1),kHighLo.slice(0,-1),kHighHi.slice(0,-1),"#e3958b");


function step(T_,S){let d="M"+xK(T_[0])+" "+yK(S[0]);for(let i=1;i<T_.length;i++){d+="H"+xK(T_[i])+"V"+yK(S[i]);}return d;}
function survAt(T_,S,t){let s=S[0];for(let i=0;i<T_.length;i++)if(T_[i]<=t)s=S[i];return s;}
const ll=mk("path",{d:step(kLowT,kLowS),fill:"none",stroke:"#6bb5d4","stroke-width":2.6},c);


const hl=mk("path",{d:step(kHighT,kHighS),fill:"none",stroke:"#d04a35","stroke-width":2.6},c);


kLowCensor.forEach(t=>{const y=yK(survAt(kLowT,kLowS,t));mk("line",{x1:xK(t),x2:xK(t),y1:y-4,y2:y+4,stroke:"#6bb5d4","stroke-width":1.3},c);});
kHighCensor.forEach(t=>{const y=yK(survAt(kHighT,kHighS,t));mk("line",{x1:xK(t),x2:xK(t),y1:y-4,y2:y+4,stroke:"#d04a35","stroke-width":1.3},c);});
mk("rect",{x:683,y:1797,width:442,height:281,fill:"none",stroke:"#222","stroke-width":2.5},g);
kYTicks.forEach(v=>{mk("line",{x1:678,x2:683,y1:yK(v),y2:yK(v),stroke:"#333"},g);T(g,675,yK(v)+6,v.toFixed(2),18,"end");});
kTicks.forEach(v=>{mk("line",{x1:xK(v),x2:xK(v),y1:2078,y2:2083,stroke:"#333"},g);T(g,xK(v),2098,String(v),18,"middle");});
T(g,904,2119,"Time (months)",21,"middle");
T(g,634,1936,"Survival probability",20,"middle","normal","#000",-90);
T(g,711,2008,"p = 5.35e\u221203",16);T(g,711,2030,"HR = 2.022",16);
T(g,904,2142,"Number at risk",14,"middle");
const rt=mk("rect",{x:683,y:2152,width:442,height:68,fill:"#fff",stroke:"#222","stroke-width":2.5},g);


T(g,676,2176,"Low risk",18,"end","normal","#6bb5d4");T(g,676,2208,"High risk",18,"end","normal","#d04a35");
kTicks.forEach((v,i)=>{T(g,xK(v),2176,String(kRiskLow[i]),15,"middle");T(g,xK(v),2208,String(kRiskHigh[i]),15,"middle");T(g,xK(v),2240,String(v),17,"middle");});
T(g,904,2256,"Time (months)",11,"middle");
})();

// ---------------- PANEL L ----------------
(function(){
const g=group();


const xL=lin(0,1,1342,1696), yL=lin(0,1,2168,1798);
mk("rect",{x:1325,y:1779,width:388,height:407,fill:"#fff"},g);
[0.125,0.375,0.625,0.875].forEach(v=>{mk("line",{x1:xL(v),x2:xL(v),y1:1779,y2:2186,stroke:"#f2f2f2","stroke-width":0.8},g);mk("line",{x1:1325,x2:1713,y1:yL(v),y2:yL(v),stroke:"#f2f2f2","stroke-width":0.8},g);});
lTicks.forEach(v=>{mk("line",{x1:xL(v),x2:xL(v),y1:1779,y2:2186,stroke:"#ebebeb","stroke-width":1.3},g);mk("line",{x1:1325,x2:1713,y1:yL(v),y2:yL(v),stroke:"#ebebeb","stroke-width":1.3},g);});
mk("rect",{x:1325,y:1779,width:388,height:407,fill:"none",stroke:"#999","stroke-width":1.5},g);
mk("line",{x1:xL(0),y1:yL(0),x2:xL(1),y2:yL(1),stroke:"#000","stroke-width":1.3,"stroke-dasharray":"4,3"},g);
[[l1FP,l1TP,"#d0402f","roc-1-year"],[l3FP,l3TP,"#6bb9d8","roc-3-year"],[l5FP,l5TP,"#3a9477","roc-5-year"]].forEach(s=>{
const p=mk("polyline",{points:s[0].map((x,i)=>xL(x)+","+yL(s[1][i])).join(" "),fill:"none",stroke:s[2],"stroke-width":1.8,"stroke-linejoin":"round"},g);

});
lTicks.forEach((v,i)=>{mk("line",{x1:1321,x2:1325,y1:yL(v),y2:yL(v),stroke:"#333"},g);T(g,1319,yL(v)+5,lTickLab[i],14,"end","normal","#222");
mk("line",{x1:xL(v),x2:xL(v),y1:2186,y2:2190,stroke:"#333"},g);T(g,xL(v),2204,lTickLab[i],14,"middle","normal","#222");});
T(g,1519,2225,"FP",21,"middle");
T(g,1288,1983,"TP",21,"middle","normal","#000",-90);
const lg=mk("rect",{x:1517,y:2073,width:161,height:62,fill:"#fff"},g);


[["1\u2212year (AUC = 0.611)","#d0402f",2091],["3\u2212year (AUC = 0.637)","#6bb9d8",2107],["5\u2212year (AUC = 0.817)","#3a9477",2123]].forEach(l=>{
mk("line",{x1:1520,x2:1533,y1:l[2],y2:l[2],stroke:l[1],"stroke-width":2},g);T(g,1540,l[2]+5,l[0],13.5);});
})();
</script>
</body></html>
